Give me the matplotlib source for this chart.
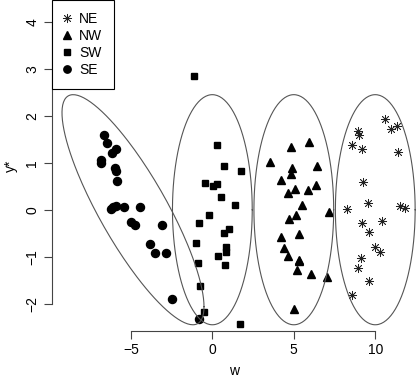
import numpy as np
import matplotlib.pyplot as plt
from matplotlib.lines import Line2D

plt.rcParams['font.family'] = ['Liberation Sans', 'DejaVu Sans']

# group points (w, y*)
ne_w = [10.62, 8.96, 9.02, 10.97, 11.32, 8.59, 9.19, 11.42, 9.23, 9.58, 8.25,
        11.52, 11.81, 10.40, 9.17, 9.64, 9.99, 10.31, 9.11, 8.94, 9.64, 8.56]
ne_y = [1.94, 1.68, 1.58, 1.71, 1.78, 1.38, 1.29, 1.23, 0.60, 0.15, 0.01,
        0.08, 0.03, -0.24, -0.29, -0.48, -0.79, -0.91, -1.03, -1.23, -1.52, -1.81]

nw_w = [5.94, 4.85, 3.54, 4.89, 4.83, 6.41, 4.22, 6.35, 5.10, 4.67, 5.86, 5.51,
        7.16, 5.16, 4.71, 5.30, 4.22, 4.40, 4.67, 5.30, 5.34, 5.18, 6.06, 7.02, 5.00]
nw_y = [1.44, 1.33, 1.02, 0.88, 0.77, 0.94, 0.63, 0.53, 0.45, 0.36, 0.43, 0.10,
        -0.05, -0.12, -0.19, -0.52, -0.58, -0.81, -0.99, -1.06, -1.09, -1.28,
        -1.37, -1.43, -2.11]

sw_w = [-1.10, 0.27, 0.72, 1.76, -0.45, 0.06, 0.29, 0.53, 1.38, -0.20, -0.82,
        1.03, 0.70, -1.02, 0.86, 0.84, 0.35, -0.86, 0.78, -0.76, -0.53, 1.72]
sw_y = [2.84, 1.37, 0.93, 0.82, 0.57, 0.51, 0.55, 0.26, 0.11, -0.11, -0.28,
        -0.40, -0.50, -0.71, -0.80, -0.89, -0.98, -1.13, -1.18, -1.62, -2.18, -2.43]

se_w = [-6.63, -6.45, -5.93, -6.16, -6.85, -6.83, -5.95, -5.91, -5.83, -6.22,
        -6.08, -5.93, -5.44, -4.44, -4.99, -4.75, -3.07, -3.84, -3.54, -2.86,
        -2.47, -0.82]
se_y = [1.60, 1.43, 1.30, 1.21, 1.06, 0.99, 0.88, 0.83, 0.62, 0.01, 0.05, 0.07,
        0.06, 0.06, -0.26, -0.33, -0.33, -0.74, -0.93, -0.93, -1.90, -2.32]

# 95% ellipses: centre and covariance per group
centres = {'NE': (10, 0), 'NW': (5, 0), 'SW': (0, 0), 'SE': (-4.87, 0)}
covs = {'NE': [[1, 0], [0, 1]], 'NW': [[1, 0], [0, 1]], 'SW': [[1, 0], [0, 1]],
        'SE': [[3.17, -1.5], [-1.5, 1.0]]}

fig = plt.figure(figsize=(4.16, 3.79), dpi=100)
ax = fig.add_axes([51.7 / 416, 48.3 / 379, 1 - 51.7 / 416, 1 - 48.3 / 379])

ast = dict(marker=(8, 2, 0), ms=6.5, mew=0.55, color='#222222', ls='none')
ax.plot(ne_w, ne_y, **ast)
ax.plot(nw_w, nw_y, marker='^', ms=6, color='black', ls='none')
ax.plot(sw_w, sw_y, marker='s', ms=5, color='black', ls='none')
ax.plot(se_w, se_y, marker='o', ms=5.8, color='black', ls='none')

r = np.sqrt(-2 * np.log(0.05))
t = np.linspace(0, 2 * np.pi, 200)
for k in centres:
    L = np.linalg.cholesky(np.array(covs[k]))
    pts = r * L @ np.vstack([np.cos(t), np.sin(t)])
    ax.plot(pts[0] + centres[k][0], pts[1] + centres[k][1], color='#555555', lw=0.8)

ax.set_xlim(-9.86, 12.5)
ax.set_ylim(-2.574, 4.462)
ax.set_xticks([-5, 0, 5, 10])
ax.set_yticks([-2, -1, 0, 1, 2, 3, 4])
ax.set_xticklabels(['\u22125', '0', '5', '10'])
ax.set_yticklabels(['\u22122', '\u22121', '0', '1', '2', '3', '4'],
                   rotation=90, va='center')
for s in ['top', 'right']:
    ax.spines[s].set_visible(False)
ax.spines['left'].set_bounds(-2, 4)
ax.spines['bottom'].set_bounds(-5, 10)
for s in ['left', 'bottom']:
    ax.spines[s].set_color('#444444')
    ax.spines[s].set_linewidth(0.8)
ax.tick_params(direction='out', length=6, width=0.8, color='#444444',
               labelsize=10, pad=3)
ax.set_xlabel('w', fontsize=10, labelpad=5)
ax.set_ylabel('y*', fontsize=10, labelpad=5)

handles = [Line2D([], [], **ast),
           Line2D([], [], marker='^', ms=5.5, color='black', ls='none'),
           Line2D([], [], marker='s', ms=4.5, color='black', ls='none'),
           Line2D([], [], marker='o', ms=5.3, color='black', ls='none')]
leg = ax.legend(handles, ['NE', 'NW', 'SW', 'SE'], loc='upper left',
                bbox_to_anchor=(0, 1), borderaxespad=0, fancybox=False,
                edgecolor='black', fontsize=10, handlelength=0.5,
                handletextpad=0.62, labelspacing=0.22, borderpad=0.85,
                framealpha=1)
leg.get_frame().set_linewidth(0.8)

plt.savefig('out.png', dpi=100)
